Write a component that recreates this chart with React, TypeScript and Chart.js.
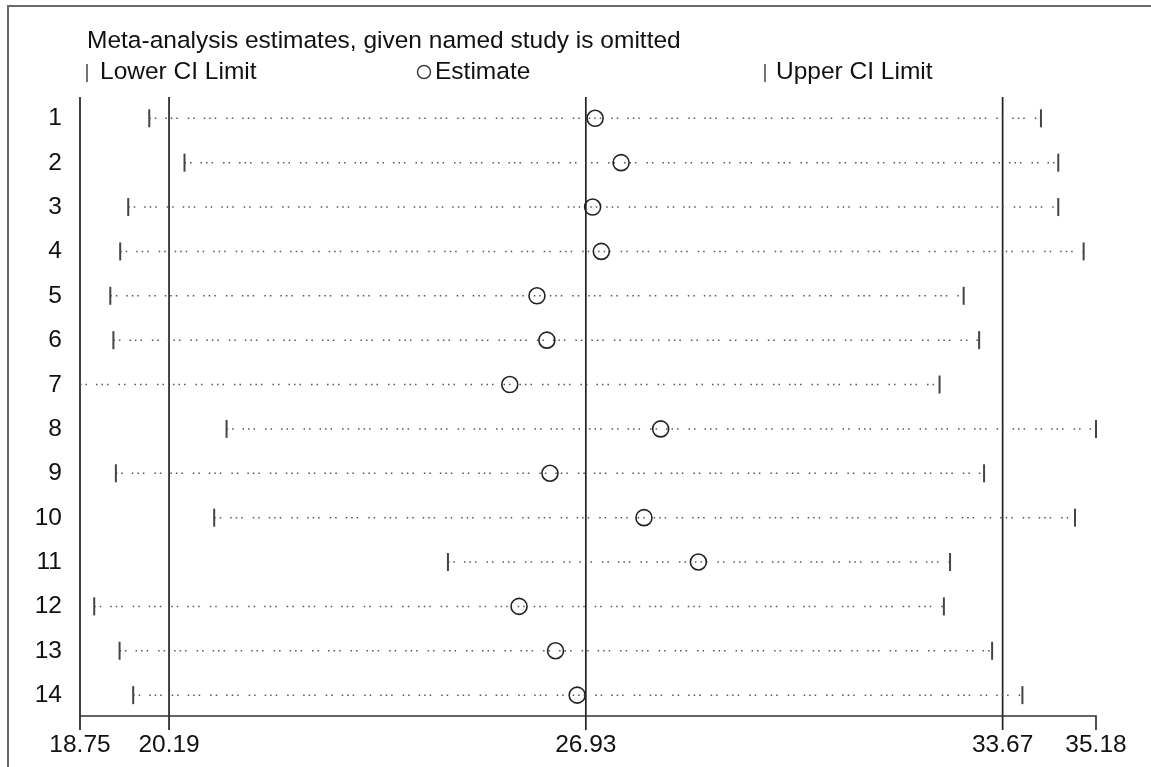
import React, { useEffect, useRef } from "react";
import { Chart, registerables } from "chart.js";

Chart.register(...registerables);

const studies = ["1", "2", "3", "4", "5", "6", "7", "8", "9", "10", "11", "12", "13", "14"];
const lowerCI = [19.87, 20.44, 19.53, 19.4, 19.24, 19.29, 18.75, 21.12, 19.33, 20.92, 24.7, 18.98, 19.39, 19.61];
const estimates = [27.08, 27.5, 27.04, 27.18, 26.14, 26.3, 25.7, 28.14, 26.35, 27.87, 28.75, 25.85, 26.44, 26.79];
const upperCI = [34.29, 34.57, 34.57, 34.98, 33.04, 33.29, 32.65, 35.18, 33.37, 34.84, 32.82, 32.72, 33.5, 33.99];
const axisTicks = [18.75, 20.19, 26.93, 33.67, 35.18];
const referenceLines = [20.19, 26.93, 33.67];
const titleText = "Meta-analysis estimates, given named study is omitted";
const legendLabels = ["Lower CI Limit", "Estimate", "Upper CI Limit"];

const FONT = '24.5px "Liberation Sans", Arial, sans-serif';

const decorPlugin = {
  id: "decor",
  beforeDatasetsDraw(chart: any) {
    const { ctx, chartArea, scales } = chart;
    const x = scales.x;
    const y = scales.y;
    ctx.save();
    // outer frame
    ctx.strokeStyle = "#6a6a6a";
    ctx.lineWidth = 2;
    ctx.beginPath();
    ctx.moveTo(8, 767);
    ctx.lineTo(8, 6);
    ctx.lineTo(1151, 6);
    ctx.stroke();

    const top = chartArea.top;
    const bottom = chartArea.bottom;
    const tickEnd = bottom + 14;
    const xMin = x.getPixelForValue(axisTicks[0]);
    const xMax = x.getPixelForValue(axisTicks[axisTicks.length - 1]);

    ctx.strokeStyle = "#222";
    ctx.lineWidth = 1.7;
    ctx.beginPath();
    ctx.moveTo(xMin, top);
    ctx.lineTo(xMin, tickEnd);
    ctx.stroke();
    referenceLines.forEach((v) => {
      const px = x.getPixelForValue(v);
      ctx.beginPath();
      ctx.moveTo(px, top);
      ctx.lineTo(px, tickEnd);
      ctx.stroke();
    });
    ctx.strokeStyle = "#333";
    ctx.beginPath();
    ctx.moveTo(xMin, bottom);
    ctx.lineTo(xMax, bottom);
    ctx.lineTo(xMax, tickEnd);
    ctx.stroke();

    ctx.fillStyle = "#111";
    ctx.font = FONT;
    ctx.textAlign = "center";
    ctx.textBaseline = "alphabetic";
    axisTicks.forEach((v) => {
      ctx.fillText(v.toFixed(2), x.getPixelForValue(v), 752);
    });

    ctx.textAlign = "right";
    studies.forEach((s, i) => {
      ctx.fillText(s, 62, y.getPixelForValue(i + 1) + 7);
    });

    ctx.textAlign = "left";
    ctx.fillText(titleText, 87, 48);

    ctx.strokeStyle = "#444";
    ctx.lineWidth = 1.5;
    ctx.beginPath();
    ctx.moveTo(87, 64);
    ctx.lineTo(87, 82);
    ctx.stroke();
    ctx.fillText(legendLabels[0], 100, 79);

    ctx.beginPath();
    ctx.arc(424, 72, 6.5, 0, Math.PI * 2);
    ctx.stroke();
    ctx.fillText(legendLabels[1], 435, 79);

    ctx.beginPath();
    ctx.moveTo(765, 64);
    ctx.lineTo(765, 82);
    ctx.stroke();
    ctx.fillText(legendLabels[2], 776, 79);

    ctx.restore();
  },
};

export default function App() {
  const canvasRef = useRef<HTMLCanvasElement | null>(null);

  useEffect(() => {
    const canvas = canvasRef.current;
    if (!canvas) return;

    const segments: any[] = [];
    studies.forEach((_, i) => {
      segments.push({ x: lowerCI[i], y: i + 1 });
      segments.push({ x: upperCI[i], y: i + 1 });
      segments.push({ x: upperCI[i], y: null });
    });

    const chart = new Chart(canvas, {
      type: "scatter",
      data: {
        datasets: [
          {
            label: "Estimate",
            data: estimates.map((v, i) => ({ x: v, y: i + 1 })),
            pointStyle: "circle",
            pointRadius: 8,
            pointBorderWidth: 1.6,
            pointBorderColor: "#222",
            pointBackgroundColor: "rgba(0,0,0,0)",
            order: 0,
            clip: false,
          },
          {
            label: "Lower CI Limit",
            data: lowerCI.map((v, i) => ({ x: v, y: i + 1 })),
            pointStyle: "line",
            rotation: 90,
            pointRadius: 9,
            pointBorderWidth: 2,
            pointBorderColor: "#444",
            order: 1,
            clip: false,
          },
          {
            label: "Upper CI Limit",
            data: upperCI.map((v, i) => ({ x: v, y: i + 1 })),
            pointStyle: "line",
            rotation: 90,
            pointRadius: 9,
            pointBorderWidth: 2,
            pointBorderColor: "#444",
            order: 1,
            clip: false,
          },
          {
            label: "CI",
            data: segments,
            showLine: true,
            spanGaps: false,
            pointRadius: 0,
            borderColor: "#555",
            borderWidth: 1.5,
            borderDash: [1.5, 4, 1.5, 9, 1.5, 4, 1.5, 4, 1.5, 10],
            order: 3,
            clip: false,
          } as any,
        ],
      },
      options: {
        responsive: false,
        animation: false,
        devicePixelRatio: 1,
        layout: { padding: { left: 80, right: 55, top: 97, bottom: 51 } },
        plugins: {
          legend: { display: false },
          tooltip: { enabled: false },
          title: { display: false },
        },
        scales: {
          x: { type: "linear", min: axisTicks[0], max: axisTicks[axisTicks.length - 1], display: false },
          y: { type: "linear", min: 0.52, max: 14.47, reverse: true, display: false },
        },
      },
      plugins: [decorPlugin],
    });

    return () => chart.destroy();
  }, []);

  return (
    <div style={{ position: "absolute", left: 0, top: 0, width: 1151, height: 767, background: "#fff" }}>
      <canvas ref={canvasRef} width={1151} height={767} style={{ display: "block" }} />
    </div>
  );
}
